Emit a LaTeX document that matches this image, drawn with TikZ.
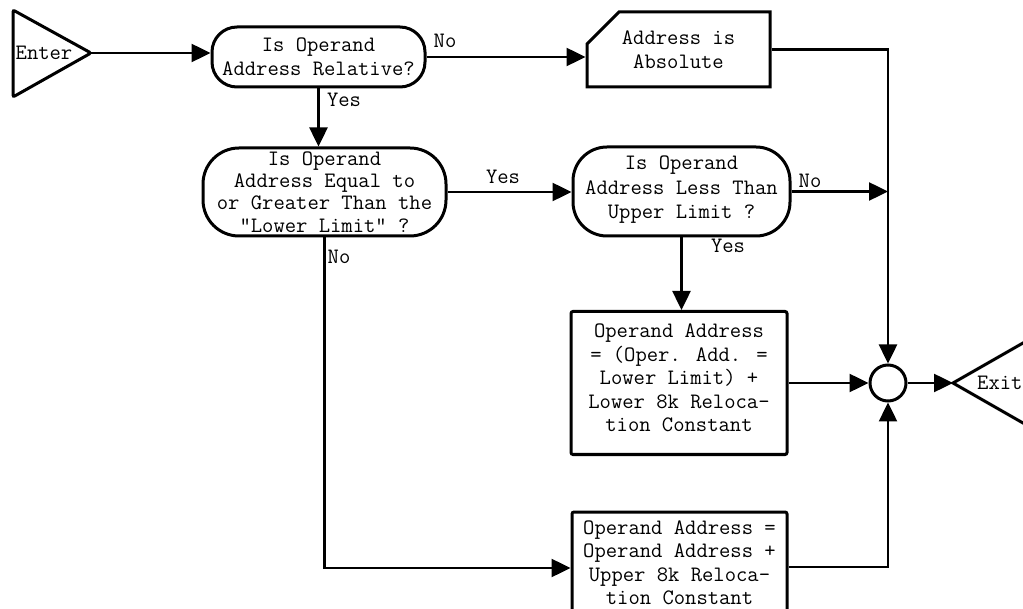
\documentclass[tikz,border=0pt]{standalone}
\usepackage{tikz}
\usetikzlibrary{arrows.meta,shapes.misc}

\begin{document}
\begin{tikzpicture}[x=1pt,y=-1pt,
    font=\fontsize{22}{23.5}\selectfont\ttfamily,
    every node/.style={inner sep=0pt,align=center},
    decision/.style={draw,line width=3pt,rectangle,rounded corners=#1},
    procbox/.style={draw,line width=3pt,rectangle,rounded corners=2pt},
    flow/.style={line width=2.5pt,-{Triangle[length=19pt,width=18pt]}},
    term/.style={line width=3pt}]
  \useasboundingbox (0,0) rectangle (1023,609);
  \draw[term,rounded corners=2pt] (13,10) -- (91,53) -- (13,97) -- cycle;
  \coordinate (enterTip) at (91,53);
  \node (enter) at (44,53) {Enter};
  \node[decision=25pt,minimum width=213pt,minimum height=60pt] (relq) at (318.5,57) {Is Operand\\Address Relative?};
  \node[draw,line width=3pt,chamfered rectangle,chamfered rectangle corners=north west,chamfered rectangle xsep=16pt,chamfered rectangle ysep=16pt,minimum width=183pt,minimum height=75pt] (absq) at (678.5,49.5) {Address is\\Absolute};
  \node[decision=36pt,minimum width=243pt,minimum height=88pt,font=\fontsize{22}{22.3}\selectfont\ttfamily] (lowq) at (324.5,192) {Is Operand\\Address Equal to\\or Greater Than the\\"Lower Limit" ?};
  \node[decision=34pt,minimum width=217pt,minimum height=89pt,font=\fontsize{22}{24.5}\selectfont\ttfamily] (uppq) at (681.5,191.5) {Is Operand\\Address Less Than\\Upper Limit ?\\[-16pt]\mbox{}};
  \node[procbox,minimum width=216pt,minimum height=143pt] (lowadd) at (679,383) {Operand Address\\= (Oper. Add. =\\Lower Limit) +\\Lower 8k Reloca-\\tion Constant\\[-13pt]\mbox{}};
  \node[procbox,minimum width=215pt,minimum height=102pt] (uppadd) at (679.5,563) {Operand Address =\\Operand Address +\\Upper 8k Reloca-\\tion Constant};
  \node[draw,circle,line width=3pt,minimum size=36pt] (join) at (888,383) {};
  \coordinate (exitTip) at (953,383);
  \draw[term] (1030,339) -- (exitTip) -- (1030,427);
  \node[anchor=west] (exit) at (977,383) {Exit};
  \node (relno) at (445,41) {No};
  \node (relyes) at (344,100) {Yes};
  \node (lowyes) at (503,177) {Yes};
  \node (lowno) at (339,257) {No};
  \node (uppno) at (810,181) {No};
  \node (uppyes) at (728,246) {Yes};
  \draw[flow] (enterTip) -- (enterTip -| relq.west);
  \draw[flow] (relq.east) -- (relq.east -| absq.west);
  \draw[flow] (absq.east) -| (join.north);
  \draw[flow] (relq.south) -- (relq.south |- lowq.north);
  \draw[flow] (lowq.east) -- (lowq.east -| uppq.west);
  \draw[flow] (uppq.east) -- (uppq.east -| join.north);
  \draw[flow] (uppq.south) -- (uppq.south |- lowadd.north);
  \draw[flow] (lowadd.east) -- (join.west);
  \draw[flow] (join.east) -- (exitTip);
  \draw[flow] (lowq.south) |- ([yshift=-5pt]uppadd.west);
  \draw[flow] ([yshift=-4pt]uppadd.east) -| (join.south);
\end{tikzpicture}
\end{document}
